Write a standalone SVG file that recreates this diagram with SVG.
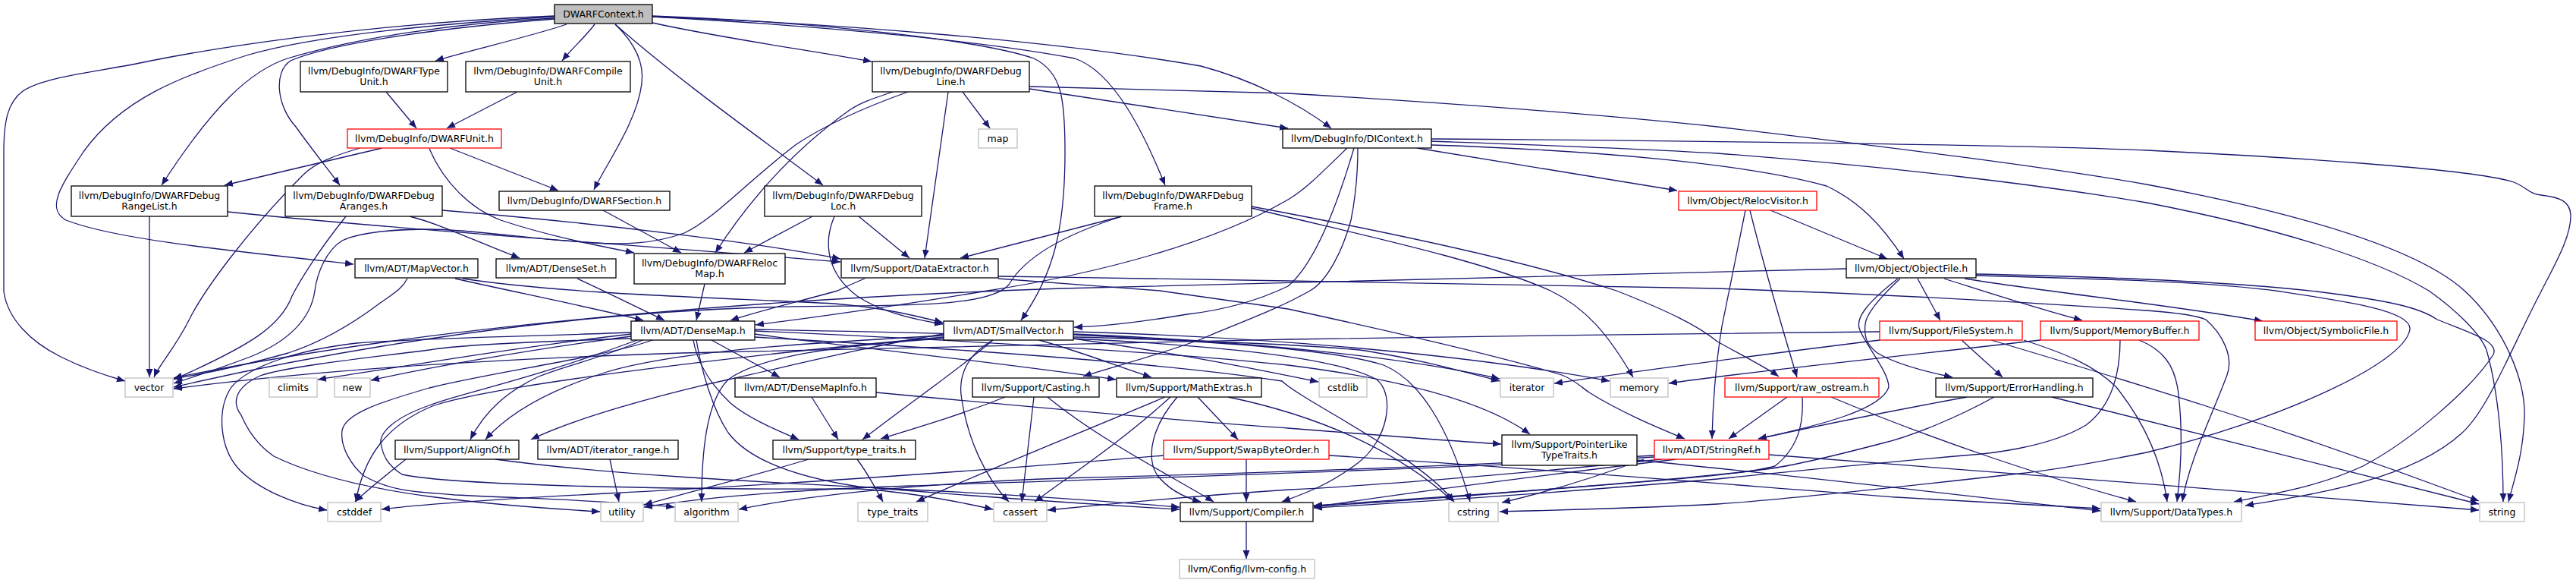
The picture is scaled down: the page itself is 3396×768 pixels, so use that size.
<svg xmlns="http://www.w3.org/2000/svg" width="3396" height="768" viewBox="0 0 3396 768">
<defs>
<marker id="a" markerUnits="userSpaceOnUse" markerWidth="12" markerHeight="10" refX="11" refY="5" orient="auto"><path d="M0,0.5 L11,5 L0,9.5 z" fill="#191970"/></marker>
</defs>
<style>
.n rect{fill:#fff;stroke:#000;stroke-width:1.3}
.r rect{stroke:#ff0000}
.g rect{stroke:#bfbfbf}
.root rect{fill:#bfbfbf}
text{font-family:"DejaVu Sans",sans-serif;font-size:12.5px;text-anchor:middle;fill:#000}
.e path{fill:none;stroke:#191970;stroke-width:1.3;marker-end:url(#a)}
</style>
<rect width="3396" height="768" fill="#fff"/>
<g id="edges" class="e">
<path d="M747,32 C700,48 620,66 574,80"/>
<path d="M784,32 C772,48 755,63 741,80"/>
<path d="M811,32 C835,55 850,80 846,110 C840,160 800,215 783,250"/>
<path d="M811,32 C900,110 1000,180 1085,244"/>
<path d="M860,30 C950,50 1060,65 1149,81"/>
<path d="M860,22 C1100,30 1400,55 1583,87 C1650,105 1710,135 1755,169"/>
<path d="M860,22 C1100,35 1300,55 1417,77 C1470,95 1510,180 1536,244"/>
<path d="M860,21 C1100,30 1300,55 1363,77 C1400,95 1404,130 1404,200 C1404,300 1390,360 1346,422"/>
<path d="M731,24 C600,30 470,50 379,77 C330,93 280,140 213,244"/>
<path d="M731,25 C600,35 440,55 383,80 C360,95 365,140 390,167 C410,195 430,220 448,244"/>
<path d="M731,22 C600,30 420,45 325,73 C240,100 160,130 110,200 C80,245 60,275 87,290 C150,315 300,330 466,348"/>
<path d="M731,21 C500,30 300,60 199,80 C130,95 60,100 30,120 C10,135 5,160 5,200 L5,384 C10,420 40,450 80,470 C110,485 140,495 165,502"/>
<path d="M509,121 L549,169"/>
<path d="M682,121 L589,169"/>
<path d="M504,195 L296,244"/>
<path d="M475,195 C440,205 415,215 400,230 C330,300 270,380 250,420 C230,460 210,480 203,497"/>
<path d="M593,195 L736,251"/>
<path d="M566,196 C585,240 620,275 660,290 C720,310 780,322 836,333"/>
<path d="M197,285 L197,497"/>
<path d="M300,279 C500,300 800,320 1108,345"/>
<path d="M540,285 C580,295 620,315 685,340"/>
<path d="M456,285 C420,330 395,370 385,390 C370,430 330,455 229,500"/>
<path d="M583,277 C800,295 1000,320 1108,341"/>
<path d="M795,277 L898,333"/>
<path d="M1071,285 L981,333"/>
<path d="M1132,285 L1199,340"/>
<path d="M1100,285 C1085,320 1090,360 1130,390 C1160,410 1200,420 1243,427"/>
<path d="M1197,121 C1130,145 1080,170 1050,190 C990,235 940,290 902,307 C860,322 820,322 783,320 C700,315 620,302 566,302 C510,302 470,308 451,317 C430,330 418,360 415,383 C410,420 380,450 330,470 C290,485 260,495 229,505"/>
<path d="M1177,121 C1150,130 1135,135 1120,145 C1050,195 990,260 943,333"/>
<path d="M1250,121 L1219,340"/>
<path d="M1269,121 L1305,169"/>
<path d="M1357,117 L1698,169"/>
<path d="M1357,114 C1500,118 1600,121 1698,123 C1900,135 2100,150 2264,167 C2500,195 2700,220 2830,243 C3000,275 3180,320 3249,383 C3300,430 3330,500 3328,550 C3326,600 3315,630 3307,661"/>
<path d="M1479,285 L1266,340"/>
<path d="M1479,285 C1400,310 1350,340 1330,375 C1300,410 1150,400 1000,405 C700,415 400,470 229,510"/>
<path d="M1650,274 C1750,300 1950,340 2044,383 C2090,405 2120,440 2153,497"/>
<path d="M1650,272 C1800,300 2000,340 2131,383 C2200,410 2240,430 2264,450 C2300,470 2330,485 2345,496"/>
<path d="M1868,195 L2211,251"/>
<path d="M1887,191 C2100,198 2300,215 2408,245 C2450,265 2480,295 2510,341"/>
<path d="M1887,183 C2300,186 2700,192 2830,198 C3000,206 3260,222 3314,240 C3330,246 3335,256 3350,257 C3375,260 3388,265 3389,283 C3390,310 3370,345 3350,384 C3310,460 3280,540 3245,571 C3180,630 3060,650 2960,666"/>
<path d="M1887,186 C2000,190 2150,195 2264,202 C2500,220 2700,245 2830,267 C3000,300 3130,340 3202,383 C3240,410 3270,440 3278,461 C3295,520 3300,600 3300,661"/>
<path d="M1785,195 C1760,280 1730,350 1698,377 C1650,400 1600,410 1565,414 C1500,425 1450,430 1416,431"/>
<path d="M1790,195 C1790,240 1785,270 1781,290 C1770,330 1750,370 1727,383 C1680,410 1620,430 1583,447 C1520,470 1460,485 1428,496"/>
<path d="M1776,195 C1740,230 1720,250 1698,263 C1600,320 1450,360 1302,383 C1200,400 1100,415 996,428"/>
<path d="M2301,277 C2290,330 2280,383 2270,430 C2262,480 2258,530 2257,578"/>
<path d="M2307,277 C2320,330 2340,400 2369,497"/>
<path d="M2334,277 L2488,341"/>
<path d="M2502,367 C2460,400 2445,420 2452,435 C2460,455 2490,490 2490,510 C2480,540 2400,560 2318,578"/>
<path d="M2505,367 C2475,395 2460,415 2459,427 C2457,445 2462,455 2475,465 C2500,480 2540,490 2574,497"/>
<path d="M2528,367 L2558,422"/>
<path d="M2563,367 C2620,385 2680,405 2745,422"/>
<path d="M2590,367 C2700,385 2850,400 2983,423"/>
<path d="M2605,361 C2800,365 2950,372 3054,384 C3150,396 3190,405 3213,421 C3260,440 3295,450 3287,467 C3260,510 3180,580 3115,614 C3060,640 3000,650 2945,661"/>
<path d="M2605,363 C2800,368 2920,372 3007,384 C3100,398 3180,410 3177,434 C3170,480 3000,555 2830,596 C2750,612 2700,620 2661,624 C2500,642 2350,658 2264,664 C2150,670 2050,672 1977,674"/>
<path d="M2434,354 C2000,362 1600,375 1400,380 C1100,390 600,420 229,498"/>
<path d="M2478,437 C2300,437 1900,445 1698,447 C1400,452 1100,460 900,465 C600,475 400,490 229,512"/>
<path d="M2478,448 C2300,470 2150,490 2049,505"/>
<path d="M2586,448 L2640,497"/>
<path d="M2625,448 C2800,500 3000,560 3268,660"/>
<path d="M2668,448 C2720,465 2760,480 2790,510 C2830,560 2850,610 2857,661"/>
<path d="M2690,448 C2500,470 2300,490 2200,505"/>
<path d="M2820,448 C2850,460 2868,480 2872,520 C2878,570 2875,620 2870,661"/>
<path d="M2795,448 C2795,480 2790,530 2750,560 C2700,590 2620,598 2589,600 C2450,612 2350,622 2264,631 C2100,645 1900,660 1732,669"/>
<path d="M1316,364 C1450,366 1600,368 1698,370 C1900,373 2100,377 2264,380 C2500,388 2700,400 2830,409 C2870,412 2895,415 2908,421 C2930,440 2945,470 2936,494 C2915,550 2885,610 2877,661"/>
<path d="M1316,367 C1400,373 1460,378 1529,383 C1600,393 1650,400 1698,407 C1850,440 1980,470 2059,494 C2075,500 2085,510 2095,517 C2140,545 2190,565 2221,578"/>
<path d="M1140,367 C1125,373 1115,378 1104,383 C1050,398 1000,410 963,422"/>
<path d="M929,374 L918,422"/>
<path d="M761,367 C790,380 830,400 876,422"/>
<path d="M600,367 C680,385 780,405 848,422"/>
<path d="M610,367 C750,388 950,392 1100,400 C1160,405 1200,414 1243,425"/>
<path d="M537,367 C530,380 523,384 500,400 C460,430 420,452 380,465 C320,482 270,492 229,499"/>
<path d="M832,440 C700,455 550,480 419,500"/>
<path d="M832,443 C700,460 560,485 489,501"/>
<path d="M832,438 C700,443 560,445 470,452 C400,460 330,480 305,510 C285,540 290,590 314,617 C340,645 390,665 431,672"/>
<path d="M847,448 C800,470 750,480 710,496 C670,515 640,540 620,579"/>
<path d="M832,446 C700,450 600,455 566,461 C450,475 370,485 343,495 C310,510 305,530 318,547 C330,575 345,590 361,601 C420,630 500,645 566,654 C650,665 720,670 791,674"/>
<path d="M860,448 C800,470 650,490 566,511 C500,530 455,545 451,567 C448,590 465,615 480,627 C520,650 560,648 600,652 C700,657 820,660 889,668"/>
<path d="M938,448 L1028,497"/>
<path d="M914,448 C918,470 930,500 963,531 C985,550 1020,565 1053,579"/>
<path d="M918,448 C925,490 940,540 960,570 C990,610 1060,630 1132,641 C1300,655 1450,665 1555,671"/>
<path d="M995,440 C1100,455 1300,475 1471,500"/>
<path d="M995,436 C1300,450 1550,465 1698,481 C1850,500 1960,530 2017,572"/>
<path d="M995,444 C1300,462 1550,480 1690,502 C1720,530 1870,600 1917,661"/>
<path d="M995,434 C1300,440 1700,450 1800,462 C1880,475 1930,490 1977,502"/>
<path d="M840,448 C700,500 600,520 566,534 C520,550 500,570 502,584 C505,600 510,612 530,625 C600,640 900,645 1132,644 C1200,648 1260,660 1309,671"/>
<path d="M1244,442 C1100,450 900,460 800,490 C720,515 670,545 640,579"/>
<path d="M1309,448 C1260,490 1200,530 1137,579"/>
<path d="M1309,448 C1270,470 1265,500 1267,520 C1275,580 1300,630 1330,661"/>
<path d="M1370,448 C1430,465 1480,485 1518,497"/>
<path d="M1415,446 C1550,465 1650,485 1738,503"/>
<path d="M1415,440 C1650,450 1850,470 1977,499"/>
<path d="M1415,437 C1700,445 1950,470 2122,502"/>
<path d="M1415,441 C1600,450 1760,460 1824,481 C1870,500 1910,560 1938,661"/>
<path d="M1415,446 C1600,455 1760,470 1815,500 C1840,520 1830,580 1790,610 C1750,640 1720,650 1690,661"/>
<path d="M1244,446 C1100,455 1000,470 960,500 C930,530 925,600 925,661"/>
<path d="M1244,444 C950,470 640,510 570,535 C510,560 480,600 469,661"/>
<path d="M1244,440 C1150,455 1050,480 960,500 C870,520 760,550 700,579"/>
<path d="M1534,600 C1300,620 1000,640 800,650 C650,658 550,665 503,671"/>
<path d="M1066,605 C1000,625 920,645 849,665"/>
<path d="M1130,605 C1145,625 1155,645 1164,661"/>
<path d="M804,605 L816,661"/>
<path d="M535,605 C510,625 485,645 468,661"/>
<path d="M653,605 C800,625 1000,635 1200,645 C1350,652 1480,662 1555,668"/>
<path d="M1325,523 C1270,545 1220,560 1161,578"/>
<path d="M1363,523 L1347,661"/>
<path d="M1381,523 C1450,580 1550,630 1600,661"/>
<path d="M1579,523 L1632,579"/>
<path d="M1543,523 C1480,580 1420,620 1364,661"/>
<path d="M1536,523 C1400,580 1300,620 1208,661"/>
<path d="M1552,523 C1520,560 1510,600 1525,625 C1540,645 1560,655 1583,661"/>
<path d="M1619,523 C1750,550 1850,600 1915,660"/>
<path d="M1643,605 L1643,661"/>
<path d="M1752,600 C2000,615 2300,640 2500,655 C2620,662 2700,666 2769,670"/>
<path d="M2158,606 C2400,630 2650,660 2769,673"/>
<path d="M2332,599 C2600,620 3000,650 3268,672"/>
<path d="M2210,605 C2000,630 1850,650 1732,668"/>
<path d="M2167,605 C2100,630 2040,648 1980,662"/>
<path d="M2181,600 C1900,615 1600,625 1400,630 C1200,637 1050,655 974,671"/>
<path d="M2190,605 C2000,625 1800,640 1700,645 C1550,655 1450,665 1381,672"/>
<path d="M2181,602 C1900,618 1500,630 1200,640 C1050,645 930,655 849,668"/>
<path d="M2356,523 L2279,578"/>
<path d="M2376,523 C2378,560 2370,590 2340,614 C2300,625 2200,632 2100,640 C1950,652 1820,662 1732,667"/>
<path d="M2414,523 C2550,580 2700,630 2816,661"/>
<path d="M2593,523 C2500,540 2400,560 2318,578"/>
<path d="M2629,523 C2580,550 2520,575 2481,584 C2420,600 2370,612 2336,617 C2200,635 1900,655 1732,666"/>
<path d="M2705,523 C2850,560 3050,610 3268,664"/>
<path d="M1070,523 L1105,579"/>
<path d="M1155,517 C1400,540 1600,558 1698,564 C1800,572 1900,580 1979,585"/>
<path d="M1643,687 L1643,736"/>
</g>
<g id="n_root" class="n root"><rect x="731" y="6" width="129" height="25"/><text x="795.5" y="23">DWARFContext.h</text></g>
<g id="n_typeunit" class="n"><rect x="396" y="81" width="194" height="40"/><text x="493" y="98">llvm/DebugInfo/DWARFType</text><text x="493" y="112">Unit.h</text></g>
<g id="n_compileunit" class="n"><rect x="614" y="81" width="217" height="40"/><text x="722.5" y="98">llvm/DebugInfo/DWARFCompile</text><text x="722.5" y="112">Unit.h</text></g>
<g id="n_debugline" class="n"><rect x="1150" y="81" width="207" height="40"/><text x="1253.5" y="98">llvm/DebugInfo/DWARFDebug</text><text x="1253.5" y="112">Line.h</text></g>
<g id="n_unit" class="n r"><rect x="458" y="170" width="203" height="25"/><text x="559.5" y="187">llvm/DebugInfo/DWARFUnit.h</text></g>
<g id="n_map" class="n g"><rect x="1290" y="170" width="51" height="25"/><text x="1315.5" y="187">map</text></g>
<g id="n_dicontext" class="n"><rect x="1691" y="170" width="196" height="25"/><text x="1789" y="187">llvm/DebugInfo/DIContext.h</text></g>
<g id="n_relocvisitor" class="n r"><rect x="2213" y="252" width="182" height="25"/><text x="2304" y="269">llvm/Object/RelocVisitor.h</text></g>
<g id="n_rangelist" class="n"><rect x="94" y="245" width="206" height="40"/><text x="197" y="262">llvm/DebugInfo/DWARFDebug</text><text x="197" y="276">RangeList.h</text></g>
<g id="n_aranges" class="n"><rect x="376" y="245" width="207" height="40"/><text x="479.5" y="262">llvm/DebugInfo/DWARFDebug</text><text x="479.5" y="276">Aranges.h</text></g>
<g id="n_section" class="n"><rect x="658" y="252" width="225" height="25"/><text x="770.5" y="269">llvm/DebugInfo/DWARFSection.h</text></g>
<g id="n_debugloc" class="n"><rect x="1008" y="245" width="207" height="40"/><text x="1111.5" y="262">llvm/DebugInfo/DWARFDebug</text><text x="1111.5" y="276">Loc.h</text></g>
<g id="n_debugframe" class="n"><rect x="1443" y="245" width="207" height="40"/><text x="1546.5" y="262">llvm/DebugInfo/DWARFDebug</text><text x="1546.5" y="276">Frame.h</text></g>
<g id="n_mapvector" class="n"><rect x="468" y="341" width="162" height="25"/><text x="549" y="358">llvm/ADT/MapVector.h</text></g>
<g id="n_denseset" class="n"><rect x="654" y="341" width="158" height="25"/><text x="733" y="358">llvm/ADT/DenseSet.h</text></g>
<g id="n_relocmap" class="n"><rect x="836" y="334" width="199" height="40"/><text x="935.5" y="351">llvm/DebugInfo/DWARFReloc</text><text x="935.5" y="365">Map.h</text></g>
<g id="n_dataextractor" class="n"><rect x="1109" y="341" width="207" height="25"/><text x="1212.5" y="358">llvm/Support/DataExtractor.h</text></g>
<g id="n_objectfile" class="n"><rect x="2434" y="341" width="171" height="25"/><text x="2519.5" y="358">llvm/Object/ObjectFile.h</text></g>
<g id="n_densemap" class="n"><rect x="832" y="423" width="163" height="25"/><text x="913.5" y="440">llvm/ADT/DenseMap.h</text></g>
<g id="n_smallvector" class="n"><rect x="1244" y="423" width="171" height="25"/><text x="1329.5" y="440">llvm/ADT/SmallVector.h</text></g>
<g id="n_filesystem" class="n r"><rect x="2478" y="423" width="188" height="25"/><text x="2572" y="440">llvm/Support/FileSystem.h</text></g>
<g id="n_memorybuffer" class="n r"><rect x="2690" y="423" width="209" height="25"/><text x="2794.5" y="440">llvm/Support/MemoryBuffer.h</text></g>
<g id="n_symbolicfile" class="n r"><rect x="2973" y="423" width="187" height="25"/><text x="3066.5" y="440">llvm/Object/SymbolicFile.h</text></g>
<g id="n_vector" class="n g"><rect x="165" y="498" width="63" height="25"/><text x="196.5" y="515">vector</text></g>
<g id="n_climits" class="n g"><rect x="355" y="498" width="63" height="25"/><text x="386.5" y="515">climits</text></g>
<g id="n_new" class="n g"><rect x="441" y="498" width="47" height="25"/><text x="464.5" y="515">new</text></g>
<g id="n_densemapinfo" class="n"><rect x="969" y="498" width="186" height="25"/><text x="1062" y="515">llvm/ADT/DenseMapInfo.h</text></g>
<g id="n_casting" class="n"><rect x="1282" y="498" width="167" height="25"/><text x="1365.5" y="515">llvm/Support/Casting.h</text></g>
<g id="n_mathextras" class="n"><rect x="1472" y="498" width="191" height="25"/><text x="1567.5" y="515">llvm/Support/MathExtras.h</text></g>
<g id="n_cstdlib" class="n g"><rect x="1739" y="498" width="63" height="25"/><text x="1770.5" y="515">cstdlib</text></g>
<g id="n_iterator" class="n g"><rect x="1978" y="498" width="70" height="25"/><text x="2013" y="515">iterator</text></g>
<g id="n_memory" class="n g"><rect x="2123" y="498" width="76" height="25"/><text x="2161" y="515">memory</text></g>
<g id="n_rawostream" class="n r"><rect x="2274" y="498" width="203" height="25"/><text x="2375.5" y="515">llvm/Support/raw_ostream.h</text></g>
<g id="n_errorhandling" class="n"><rect x="2552" y="498" width="207" height="25"/><text x="2655.5" y="515">llvm/Support/ErrorHandling.h</text></g>
<g id="n_alignof" class="n"><rect x="521" y="580" width="163" height="25"/><text x="602.5" y="597">llvm/Support/AlignOf.h</text></g>
<g id="n_iteratorrange" class="n"><rect x="709" y="580" width="185" height="25"/><text x="801.5" y="597">llvm/ADT/iterator_range.h</text></g>
<g id="n_typetraitsh" class="n"><rect x="1019" y="580" width="188" height="25"/><text x="1113" y="597">llvm/Support/type_traits.h</text></g>
<g id="n_swapbyteorder" class="n r"><rect x="1534" y="580" width="218" height="25"/><text x="1643" y="597">llvm/Support/SwapByteOrder.h</text></g>
<g id="n_pointerlike" class="n"><rect x="1980" y="573" width="178" height="40"/><text x="2069" y="590">llvm/Support/PointerLike</text><text x="2069" y="604">TypeTraits.h</text></g>
<g id="n_stringref" class="n r"><rect x="2181" y="580" width="151" height="25"/><text x="2256.5" y="597">llvm/ADT/StringRef.h</text></g>
<g id="n_cstddef" class="n g"><rect x="432" y="662" width="70" height="25"/><text x="467" y="679">cstddef</text></g>
<g id="n_utility" class="n g"><rect x="792" y="662" width="56" height="25"/><text x="820" y="679">utility</text></g>
<g id="n_algorithm" class="n g"><rect x="890" y="662" width="83" height="25"/><text x="931.5" y="679">algorithm</text></g>
<g id="n_typetraits" class="n g"><rect x="1131" y="662" width="92" height="25"/><text x="1177" y="679">type_traits</text></g>
<g id="n_cassert" class="n g"><rect x="1310" y="662" width="70" height="25"/><text x="1345" y="679">cassert</text></g>
<g id="n_compiler" class="n"><rect x="1556" y="662" width="175" height="25"/><text x="1643.5" y="679">llvm/Support/Compiler.h</text></g>
<g id="n_cstring" class="n g"><rect x="1910" y="662" width="65" height="25"/><text x="1942.5" y="679">cstring</text></g>
<g id="n_datatypes" class="n g"><rect x="2770" y="662" width="185" height="25"/><text x="2862.5" y="679">llvm/Support/DataTypes.h</text></g>
<g id="n_string" class="n g"><rect x="3269" y="662" width="59" height="25"/><text x="3298.5" y="679">string</text></g>
<g id="n_llvmconfig" class="n g"><rect x="1555" y="737" width="178" height="25"/><text x="1644" y="754">llvm/Config/llvm-config.h</text></g>
</svg>
